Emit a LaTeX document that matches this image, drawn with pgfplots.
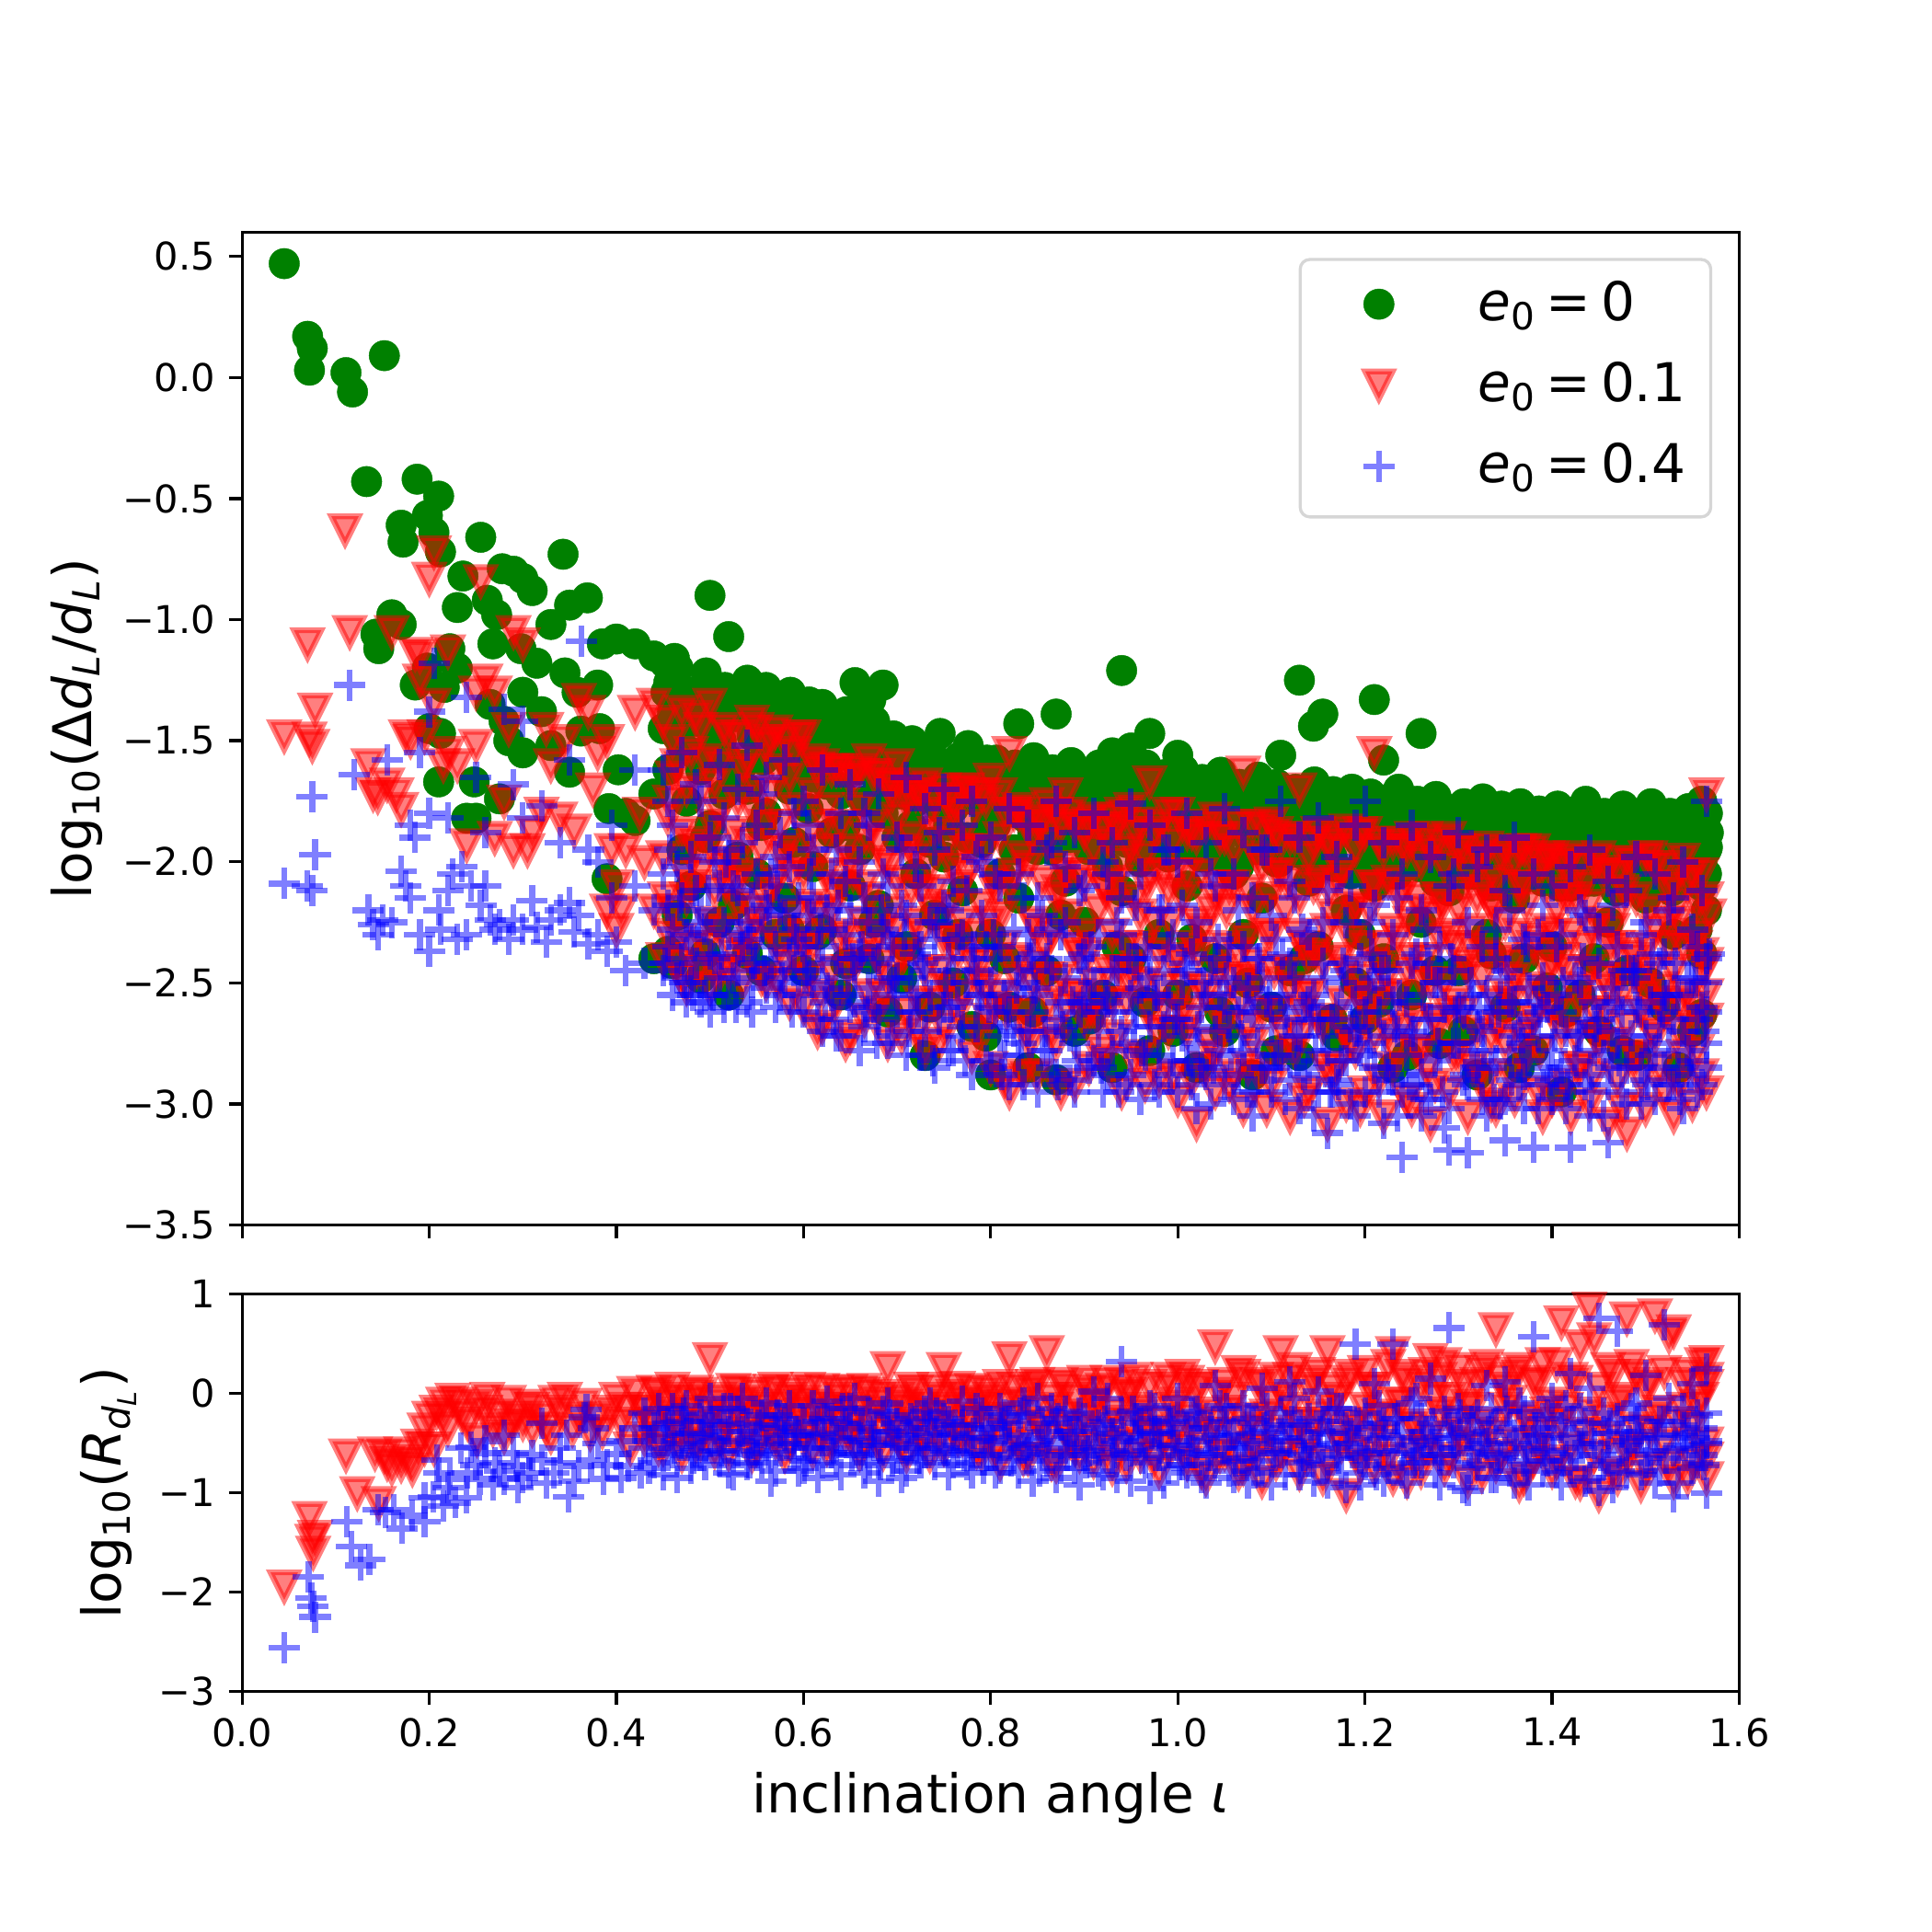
\documentclass[border=0pt]{standalone}
\usepackage{fontspec}
\setmainfont{DejaVu Sans}
\usepackage{pgfplots}
\pgfplotsset{compat=1.18}
\definecolor{mgreen}{RGB}{0,128,0}
\definecolor{legedge}{RGB}{214,214,214}
\newcommand{\eq}{\hspace{0.18em}=\hspace{0.18em}}
\pgfdeclareplotmark{vtri}{%
 \pgfpathmoveto{\pgfqpoint{0pt}{-\pgfplotmarksize}}%
 \pgfpathlineto{\pgfqpoint{-\pgfplotmarksize}{\pgfplotmarksize}}%
 \pgfpathlineto{\pgfqpoint{\pgfplotmarksize}{\pgfplotmarksize}}%
 \pgfpathclose\pgfusepathqfillstroke}
\pgfplotsset{
 gser/.style={only marks, mark=*, mark size=4.0pt, mark options={fill=mgreen, draw=mgreen, line width=0.1pt, fill opacity=1, draw opacity=1}},
 rser/.style={only marks, mark=vtri, mark size=3.6pt, mark options={fill=red, draw=red, line width=1.5pt, fill opacity=0.5, draw opacity=0.5}},
 bser/.style={only marks, mark=+, mark size=4.1pt, mark options={draw=blue, line width=1.5pt, draw opacity=0.5}},
 base/.style={scale only axis, width=392pt, xmin=0, xmax=1.6, anchor=south west,
   axis line style={line width=0.8pt}, tick align=outside, major tick length=3.5pt, tick pos=left,
   every tick/.style={black, line width=0.8pt},
   ticklabel style={font=\fontsize{10}{12}\selectfont},
   xtick={0,0.2,0.4,0.6,0.8,1.0,1.2,1.4,1.6},
   label style={font=\fontsize{14}{16.8}\selectfont},
   legend image code/.code={\path (0pt,0pt) (39.3pt,0pt); \draw[#1, only marks] plot coordinates {(13.7pt,0.8pt)};},
 },
}
\begin{document}
\begin{tikzpicture}
\useasboundingbox (0,0) rectangle (505.89pt,505.89pt);
\begin{axis}[base, at={(63.4pt,185.1pt)}, height=260pt, ymin=-3.5, ymax=0.6,
  xticklabels={},
  ytick={-3.5,-3,-2.5,-2,-1.5,-1,-0.5,0,0.5},
  yticklabels={−3.5,−3.0,−2.5,−2.0,−1.5,−1.0,−0.5,0.0,0.5},
  ylabel={log\textsubscript{10}(Δ\textit{d}\textsubscript{\textit{L}}/\textit{d}\textsubscript{\textit{L}})},
  ylabel style={at={(axis description cs:-0.1107,0.5)}, anchor=center},
  legend cell align=left,
  legend style={at={(axis description cs:0.982,0.974)}, anchor=north east, draw=legedge, line width=0.8pt, rounded corners=2.5pt, fill=white,
    font=\fontsize{14}{16.8}\selectfont, inner xsep=6.5pt, inner ysep=5.5pt, row sep=7.2pt,
    nodes={inner sep=0pt, text height=10.5pt, text depth=3.5pt}},
]
\addplot[gser] coordinates {
(0.045,0.47)(0.070,0.17)(0.075,0.12)(0.072,0.03)(0.111,0.02)(0.118,-0.06)(0.152,0.09)(0.133,-0.43)(0.187,-0.42)(0.210,-0.49)(0.198,-0.57)(0.170,-0.61)(0.172,-0.68)(0.205,-0.64)(0.212,-0.72)(0.255,-0.66)(0.236,-0.82)(0.278,-0.79)(0.290,-0.80)(0.300,-0.83)(0.310,-0.88)(0.343,-0.73)(0.350,-0.94)(0.369,-0.91)(0.262,-0.92)(0.230,-0.95)(0.272,-0.98)(0.160,-0.98)(0.170,-1.02)(0.143,-1.06)(0.146,-1.12)(0.222,-1.12)(0.198,-1.20)(0.185,-1.27)(0.216,-1.28)(0.268,-1.10)(0.298,-1.12)(0.315,-1.18)(0.330,-1.02)(0.345,-1.22)(0.358,-1.30)(0.380,-1.27)(0.385,-1.10)(0.400,-1.08)(0.420,-1.10)(0.440,-1.15)(0.452,-1.18)(0.462,-1.16)(0.500,-0.90)(0.520,-1.07)(0.498,-1.27)(0.540,-1.25)(0.560,-1.28)(0.580,-1.32)(0.600,-1.40)(0.620,-1.35)(0.650,-1.38)(0.655,-1.26)(0.685,-1.27)(0.672,-1.33)(0.940,-1.21)(1.130,-1.25)(1.210,-1.33)(1.155,-1.39)(1.145,-1.44)(1.260,-1.47)(0.830,-1.43)(0.870,-1.39)(0.970,-1.47)(0.930,-1.55)(0.950,-1.53)(1.000,-1.56)(1.110,-1.56)(1.220,-1.58)
(0.200,-1.45)(0.212,-1.47)(0.210,-1.67)(0.248,-1.67)(0.240,-1.82)(0.250,-1.82)(0.275,-1.74)(0.280,-1.42)(0.285,-1.50)(0.300,-1.55)(0.330,-1.52)(0.350,-1.63)(0.362,-1.46)(0.382,-1.45)(0.402,-1.62)(0.392,-1.78)(0.410,-1.80)(0.420,-1.83)(0.390,-2.07)(0.440,-1.72)(0.450,-1.45)(0.300,-1.30)(0.265,-1.35)(0.230,-1.20)(0.320,-1.38)(0.440,-2.40)(0.455,-2.37)
(0.46,-1.38)(0.46,-2.42)(0.47,-1.52)(0.47,-1.95)(0.48,-1.30)(0.48,-2.10)(0.49,-1.62)(0.49,-2.48)(0.50,-1.45)(0.50,-1.85)(0.51,-1.33)(0.51,-2.25)(0.52,-1.58)(0.52,-2.55)(0.53,-1.40)(0.53,-1.98)(0.54,-1.70)(0.54,-2.38)(0.55,-1.48)(0.55,-2.05)(0.56,-1.36)(0.56,-1.80)(0.57,-1.55)(0.57,-2.30)(0.58,-1.44)(0.58,-2.15)(0.59,-1.62)(0.59,-1.92)
(0.60,-1.50)(0.60,-2.45)(0.61,-1.65)(0.61,-2.02)(0.62,-1.42)(0.62,-2.28)(0.63,-1.58)(0.63,-1.88)(0.64,-1.72)(0.64,-2.55)(0.65,-1.48)(0.65,-2.10)(0.66,-1.62)(0.66,-1.95)(0.67,-1.52)(0.67,-2.40)(0.68,-1.70)(0.68,-2.18)(0.69,-1.55)(0.69,-2.62)(0.70,-1.62)(0.70,-1.90)(0.71,-1.58)(0.71,-2.35)(0.72,-1.75)(0.72,-2.05)(0.73,-1.60)(0.73,-2.80)(0.74,-1.68)(0.74,-2.22)(0.75,-1.63)(0.75,-1.98)(0.76,-1.78)(0.76,-2.50)(0.77,-1.66)(0.77,-2.12)(0.78,-1.60)(0.78,-2.68)(0.79,-1.72)(0.79,-1.92)
(0.80,-1.68)(0.80,-2.30)(0.80,-2.88)(0.81,-1.75)(0.81,-2.05)(0.82,-1.65)(0.82,-2.60)(0.83,-1.80)(0.83,-2.15)(0.84,-1.70)(0.84,-2.85)(0.85,-1.66)(0.85,-1.95)(0.86,-1.78)(0.86,-2.45)(0.87,-1.72)(0.87,-2.90)(0.88,-1.68)(0.88,-2.08)(0.89,-1.82)(0.89,-2.70)(0.90,-1.74)(0.90,-2.25)(0.91,-1.69)(0.91,-1.95)(0.92,-1.80)(0.92,-2.55)(0.93,-1.72)(0.93,-2.85)(0.94,-1.76)(0.94,-2.12)(0.95,-1.70)(0.95,-2.40)(0.96,-1.85)(0.96,-2.00)(0.97,-1.74)(0.97,-2.78)(0.98,-1.79)(0.98,-2.30)(0.99,-1.73)(0.99,-1.98)
(1.00,-1.78)(1.00,-2.55)(1.01,-1.74)(1.01,-2.10)(1.02,-1.82)(1.02,-2.85)(1.03,-1.76)(1.03,-1.98)(1.04,-1.85)(1.04,-2.40)(1.05,-1.75)(1.05,-2.70)(1.06,-1.80)(1.06,-2.05)(1.07,-1.72)(1.07,-2.30)(1.08,-1.86)(1.08,-2.88)(1.09,-1.78)(1.09,-2.15)(1.10,-1.82)(1.10,-2.60)(1.11,-1.76)(1.11,-1.96)(1.12,-1.88)(1.12,-2.45)(1.13,-1.78)(1.13,-2.80)(1.14,-1.83)(1.14,-2.08)(1.15,-1.77)(1.15,-2.35)(1.16,-1.85)(1.16,-1.98)(1.17,-1.80)(1.17,-2.72)(1.18,-1.75)(1.18,-2.20)(1.19,-1.84)(1.19,-2.50)
(1.20,-1.80)(1.20,-2.65)(1.21,-1.86)(1.21,-2.10)(1.22,-1.82)(1.22,-2.40)(1.23,-1.90)(1.23,-2.85)(1.24,-1.84)(1.24,-2.02)(1.25,-1.88)(1.25,-2.55)(1.26,-1.85)(1.26,-2.25)(1.27,-1.92)(1.27,-1.98)(1.28,-1.86)(1.28,-2.75)(1.29,-1.82)(1.29,-2.12)(1.30,-1.90)(1.30,-2.45)(1.31,-1.86)(1.31,-2.05)(1.32,-1.80)(1.32,-2.88)(1.33,-1.88)(1.33,-2.30)(1.34,-1.84)(1.34,-1.98)(1.35,-1.92)(1.35,-2.60)(1.36,-1.86)(1.36,-2.15)(1.37,-1.90)(1.37,-2.40)(1.38,-1.88)(1.38,-2.78)(1.39,-1.93)(1.39,-2.08)
(1.40,-1.88)(1.40,-2.35)(1.41,-1.82)(1.41,-2.95)(1.42,-1.92)(1.42,-2.10)(1.43,-1.88)(1.43,-2.55)(1.44,-1.95)(1.44,-2.00)(1.45,-1.90)(1.45,-2.70)(1.46,-1.87)(1.46,-2.25)(1.47,-1.93)(1.47,-2.05)(1.48,-1.88)(1.48,-2.45)(1.49,-1.92)(1.49,-2.80)(1.50,-1.89)(1.50,-2.15)(1.51,-1.95)(1.51,-1.98)(1.52,-1.90)(1.52,-2.60)(1.53,-1.86)(1.53,-2.30)(1.54,-1.93)(1.54,-2.05)(1.55,-1.88)(1.55,-2.70)(1.56,-1.75)(1.56,-1.87)(1.56,-2.00)(1.56,-2.10)(1.56,-2.38)(1.56,-2.63)(1.565,-1.95)(1.565,-2.20)
(0.455,-1.62)(0.465,-1.48)(0.465,-2.22)(0.475,-1.75)(0.485,-1.42)(0.495,-1.90)(0.495,-2.38)(0.505,-1.55)(0.515,-1.72)(0.525,-1.35)(0.525,-2.18)(0.535,-1.60)(0.545,-1.48)(0.555,-1.85)(0.555,-2.45)(0.565,-1.52)(0.575,-1.38)(0.585,-1.70)(0.585,-2.28)(0.595,-1.45)
(0.605,-1.78)(0.615,-1.55)(0.615,-2.30)(0.625,-1.68)(0.635,-1.50)(0.645,-1.85)(0.645,-2.42)(0.655,-1.58)(0.665,-1.75)(0.675,-1.62)(0.675,-2.25)(0.685,-1.80)(0.695,-1.65)(0.705,-1.72)(0.705,-2.48)(0.715,-1.85)(0.725,-1.66)(0.735,-1.92)(0.735,-2.60)(0.745,-1.72)(0.755,-1.85)(0.765,-1.68)(0.765,-2.30)(0.775,-1.90)(0.785,-1.75)(0.795,-1.82)(0.795,-2.72)
(0.805,-1.85)(0.815,-1.72)(0.815,-2.40)(0.825,-1.95)(0.835,-1.78)(0.845,-1.88)(0.845,-2.62)(0.855,-1.80)(0.865,-1.95)(0.875,-1.76)(0.875,-2.22)(0.885,-1.90)(0.895,-1.80)(0.905,-1.95)(0.905,-2.65)(0.915,-1.82)(0.925,-2.02)(0.935,-1.85)(0.935,-2.35)(0.945,-1.92)(0.955,-1.80)(0.965,-1.98)(0.965,-2.58)(0.975,-1.86)(0.985,-1.95)(0.995,-1.84)(0.995,-2.70)
(1.005,-1.92)(1.015,-1.85)(1.015,-2.32)(1.025,-1.98)(1.035,-1.88)(1.045,-1.95)(1.045,-2.62)(1.055,-1.86)(1.065,-2.02)(1.075,-1.90)(1.075,-2.50)(1.085,-1.95)(1.095,-1.86)(1.105,-2.00)(1.105,-2.78)(1.115,-1.90)(1.125,-1.96)(1.135,-1.88)(1.135,-2.40)(1.145,-2.02)(1.155,-1.92)(1.165,-1.98)(1.165,-2.65)(1.175,-1.88)(1.185,-2.05)(1.195,-1.92)(1.195,-2.30)
(1.205,-1.95)(1.215,-2.02)(1.215,-2.58)(1.225,-1.92)(1.235,-2.05)(1.245,-1.96)(1.245,-2.80)(1.255,-2.00)(1.265,-1.94)(1.275,-2.08)(1.275,-2.45)(1.285,-1.98)(1.295,-2.02)(1.305,-1.95)(1.305,-2.70)(1.315,-2.05)(1.325,-1.98)(1.335,-2.10)(1.335,-2.38)(1.345,-2.00)(1.355,-1.96)(1.365,-2.08)(1.365,-2.85)(1.375,-2.00)(1.385,-2.05)(1.395,-1.98)(1.395,-2.52)
(1.405,-2.02)(1.415,-1.95)(1.415,-2.62)(1.425,-2.05)(1.435,-2.00)(1.445,-2.08)(1.445,-2.40)(1.455,-1.98)(1.465,-2.05)(1.475,-2.00)(1.475,-2.78)(1.485,-2.10)(1.495,-1.98)(1.505,-2.05)(1.505,-2.50)(1.515,-2.02)(1.525,-2.08)(1.535,-1.98)(1.535,-2.85)(1.545,-2.05)(1.555,-1.95)(1.555,-2.28)(1.565,-2.05)
(0.453,-1.30)(0.468,-1.42)(0.482,-1.55)(0.497,-1.36)(0.512,-1.50)(0.527,-1.62)(0.542,-1.40)(0.557,-1.58)(0.572,-1.46)(0.587,-1.60)(0.602,-1.55)(0.617,-1.45)(0.632,-1.68)(0.647,-1.56)(0.662,-1.48)(0.677,-1.72)(0.692,-1.60)
(0.703,-1.60)(0.717,-1.70)(0.733,-1.62)(0.747,-1.78)(0.762,-1.65)(0.778,-1.74)(0.792,-1.66)(0.807,-1.78)(0.822,-1.68)(0.838,-1.82)(0.852,-1.70)(0.868,-1.85)(0.883,-1.72)(0.897,-1.88)(0.912,-1.75)(0.928,-1.90)(0.943,-1.72)(0.958,-1.92)(0.973,-1.78)(0.988,-1.90)(1.003,-1.72)(1.018,-1.95)(1.033,-1.80)(1.048,-1.98)(1.063,-1.76)(1.078,-1.95)(1.093,-1.82)(1.108,-2.00)(1.123,-1.78)(1.138,-1.98)(1.153,-1.84)(1.168,-2.02)(1.183,-1.80)(1.198,-2.00)(1.213,-1.85)(1.228,-2.05)(1.243,-1.82)(1.258,-2.02)(1.273,-1.88)(1.288,-2.08)(1.303,-1.85)(1.318,-2.05)(1.333,-1.90)(1.348,-2.10)(1.363,-1.86)(1.378,-2.05)(1.393,-1.92)(1.408,-2.10)(1.423,-1.88)(1.438,-2.08)(1.453,-1.93)(1.468,-2.12)(1.483,-1.90)(1.498,-2.10)(1.513,-1.92)(1.528,-2.12)(1.543,-1.90)(1.558,-2.08)(1.567,-1.88)
(0.456,-1.26)(0.466,-1.20)(0.476,-1.31)(0.486,-1.36)(0.496,-1.22)(0.506,-1.34)(0.516,-1.28)(0.526,-1.40)(0.536,-1.30)(0.546,-1.42)(0.556,-1.33)(0.566,-1.45)(0.576,-1.37)(0.586,-1.30)(0.596,-1.48)(0.606,-1.34)(0.616,-1.40)(0.626,-1.50)(0.636,-1.44)(0.646,-1.38)(0.656,-1.52)(0.666,-1.46)(0.676,-1.42)(0.686,-1.56)(0.696,-1.48)(0.706,-1.55)(0.716,-1.50)(0.726,-1.60)(0.736,-1.53)(0.746,-1.47)(0.756,-1.62)(0.766,-1.57)(0.776,-1.52)(0.786,-1.64)(0.796,-1.58)
(0.806,-1.58)(0.806,-1.75)(0.816,-1.64)(0.816,-1.72)(0.826,-1.60)(0.826,-1.78)(0.836,-1.68)(0.836,-1.70)(0.846,-1.57)(0.846,-1.76)(0.856,-1.66)(0.856,-1.73)(0.866,-1.62)(0.866,-1.79)(0.876,-1.70)(0.876,-1.74)(0.886,-1.59)(0.886,-1.77)(0.896,-1.67)(0.896,-1.72)
(0.906,-1.64)(0.906,-1.78)(0.916,-1.60)(0.916,-1.75)(0.926,-1.70)(0.926,-1.80)(0.936,-1.62)(0.936,-1.73)(0.946,-1.66)(0.946,-1.77)(0.956,-1.72)(0.956,-1.79)(0.966,-1.60)(0.966,-1.74)(0.976,-1.69)(0.976,-1.81)(0.986,-1.64)(0.986,-1.76)(0.996,-1.73)(0.996,-1.78)
(1.006,-1.62)(1.006,-1.80)(1.016,-1.70)(1.016,-1.77)(1.026,-1.66)(1.026,-1.82)(1.036,-1.74)(1.036,-1.78)(1.046,-1.63)(1.046,-1.81)(1.056,-1.71)(1.056,-1.76)(1.066,-1.68)(1.066,-1.83)(1.076,-1.76)(1.076,-1.79)(1.086,-1.65)(1.086,-1.82)(1.096,-1.73)(1.096,-1.77)
(1.106,-1.68)(1.106,-1.84)(1.116,-1.75)(1.116,-1.80)(1.126,-1.70)(1.126,-1.83)(1.136,-1.78)(1.136,-1.79)(1.146,-1.67)(1.146,-1.86)(1.156,-1.74)(1.156,-1.81)(1.166,-1.71)(1.166,-1.84)(1.176,-1.79)(1.176,-1.80)(1.186,-1.70)(1.186,-1.87)(1.196,-1.77)(1.196,-1.82)
(1.206,-1.72)(1.206,-1.86)(1.216,-1.80)(1.216,-1.83)(1.226,-1.74)(1.226,-1.88)(1.236,-1.70)(1.236,-1.85)(1.246,-1.81)(1.246,-1.89)(1.256,-1.75)(1.256,-1.84)(1.266,-1.83)(1.266,-1.90)(1.276,-1.73)(1.276,-1.86)(1.286,-1.78)(1.286,-1.91)(1.296,-1.84)(1.296,-1.87)
(1.306,-1.76)(1.306,-1.90)(1.316,-1.82)(1.316,-1.88)(1.326,-1.74)(1.326,-1.92)(1.336,-1.85)(1.336,-1.89)(1.346,-1.77)(1.346,-1.93)(1.356,-1.83)(1.356,-1.90)(1.366,-1.76)(1.366,-1.94)(1.376,-1.86)(1.376,-1.91)(1.386,-1.79)(1.386,-1.93)(1.396,-1.84)(1.396,-1.90)
(1.406,-1.77)(1.406,-1.94)(1.416,-1.85)(1.416,-1.91)(1.426,-1.79)(1.426,-1.95)(1.436,-1.75)(1.436,-1.92)(1.446,-1.86)(1.446,-1.96)(1.456,-1.80)(1.456,-1.93)(1.466,-1.84)(1.466,-1.95)(1.476,-1.77)(1.476,-1.92)(1.486,-1.87)(1.486,-1.96)(1.496,-1.81)(1.496,-1.93)
(1.506,-1.76)(1.506,-1.95)(1.516,-1.85)(1.516,-1.92)(1.526,-1.80)(1.526,-1.96)(1.536,-1.87)(1.536,-1.93)(1.546,-1.78)(1.546,-1.95)(1.556,-1.84)(1.556,-1.92)(1.566,-1.80)(1.566,-1.94)
};
\addlegendentry{\textit{e}\textsubscript{0}\eq 0}
\addplot[rser] coordinates {
(0.045,-1.48)(0.070,-1.10)(0.072,-1.49)(0.075,-1.52)(0.078,-1.37)(0.110,-0.63)(0.115,-1.05)(0.135,-1.60)(0.140,-1.72)(0.145,-1.73)(0.155,-1.68)(0.160,-1.05)(0.165,-1.72)(0.170,-1.78)(0.180,-1.50)(0.185,-1.14)(0.190,-1.25)(0.200,-0.83)(0.205,-0.72)(0.220,-1.13)(0.205,-1.35)(0.220,-1.55)(0.230,-1.60)(0.240,-1.93)(0.250,-1.52)(0.255,-0.84)(0.260,-1.25)(0.270,-1.30)(0.270,-1.90)(0.280,-1.75)(0.290,-1.05)(0.290,-1.95)(0.300,-1.10)(0.305,-1.95)(0.310,-1.88)(0.320,-1.80)(0.330,-1.60)(0.340,-1.82)(0.355,-1.87)(0.360,-1.33)(0.370,-1.38)(0.375,-1.70)(0.380,-1.55)(0.390,-1.50)(0.395,-1.95)(0.400,-2.10)(0.405,-2.20)(0.410,-1.95)(0.420,-1.38)(0.425,-1.80)(0.430,-2.00)(0.440,-2.20)(0.440,-1.35)(0.390,-2.20)(0.400,-2.28)(0.195,-1.48)(0.215,-1.60)(0.250,-1.30)(0.285,-1.45)(0.325,-1.45)(0.345,-1.50)(0.190,-1.15)(0.175,-1.48)
(0.45,-1.42)(0.45,-1.98)(0.45,-2.40)(0.46,-1.65)(0.46,-2.20)(0.46,-1.50)(0.47,-1.88)(0.47,-2.48)(0.47,-1.38)(0.48,-1.55)(0.48,-2.10)(0.48,-2.35)(0.49,-1.72)(0.49,-1.45)(0.49,-2.05)(0.50,-1.35)(0.50,-1.95)(0.50,-2.52)(0.51,-1.60)(0.51,-2.28)(0.51,-1.80)(0.52,-1.48)(0.52,-2.00)(0.52,-2.45)(0.53,-1.75)(0.53,-1.48)(0.53,-2.18)(0.54,-1.58)(0.54,-2.38)(0.54,-1.92)(0.55,-1.45)(0.55,-1.70)(0.55,-2.25)(0.56,-1.85)(0.56,-2.50)(0.56,-1.52)(0.57,-1.62)(0.57,-2.08)(0.57,-1.46)(0.58,-1.50)(0.58,-1.95)(0.58,-2.42)(0.59,-1.78)(0.59,-2.22)(0.59,-1.55)
(0.60,-1.48)(0.60,-2.05)(0.60,-2.60)(0.61,-1.72)(0.61,-2.35)(0.61,-1.58)(0.62,-1.95)(0.62,-2.68)(0.62,-1.60)(0.63,-1.62)(0.63,-2.20)(0.63,-2.45)(0.64,-1.85)(0.64,-1.62)(0.64,-2.10)(0.65,-1.66)(0.65,-2.00)(0.65,-2.72)(0.66,-1.78)(0.66,-2.38)(0.66,-1.62)(0.67,-1.58)(0.67,-2.15)(0.67,-2.55)(0.68,-1.92)(0.68,-1.64)(0.68,-2.30)(0.69,-1.68)(0.69,-2.48)(0.69,-2.75)(0.70,-1.60)(0.70,-2.08)(0.70,-1.82)(0.71,-1.75)(0.71,-2.62)(0.71,-1.70)(0.72,-1.98)(0.72,-2.25)(0.72,-1.72)(0.73,-1.68)(0.73,-2.45)(0.73,-2.78)(0.74,-1.88)(0.74,-1.74)(0.74,-2.12)(0.75,-1.70)(0.75,-2.32)(0.75,-2.68)(0.76,-1.80)(0.76,-2.02)(0.76,-1.76)(0.77,-1.70)(0.77,-2.55)(0.77,-2.25)(0.78,-1.95)(0.78,-1.72)(0.78,-2.80)(0.79,-1.72)(0.79,-2.18)(0.79,-2.42)
(0.80,-1.66)(0.80,-2.25)(0.80,-2.85)(0.81,-1.90)(0.81,-2.55)(0.81,-1.72)(0.82,-1.55)(0.82,-2.10)(0.82,-2.95)(0.83,-1.78)(0.83,-2.40)(0.83,-1.80)(0.84,-2.02)(0.84,-2.70)(0.84,-1.85)(0.85,-1.82)(0.85,-2.28)(0.85,-2.88)(0.86,-1.92)(0.86,-1.76)(0.86,-2.48)(0.87,-1.80)(0.87,-2.15)(0.87,-2.75)(0.88,-2.05)(0.88,-2.60)(0.88,-1.72)(0.89,-1.85)(0.89,-2.35)(0.89,-2.92)(0.90,-1.88)(0.90,-2.08)(0.90,-2.65)(0.91,-1.82)(0.91,-2.50)(0.91,-1.95)(0.92,-2.10)(0.92,-2.82)(0.92,-1.86)(0.93,-1.82)(0.93,-2.30)(0.93,-2.58)(0.94,-1.80)(0.94,-2.00)(0.94,-2.95)(0.95,-1.95)(0.95,-2.45)(0.95,-1.78)(0.96,-1.84)(0.96,-2.22)(0.96,-2.80)(0.97,-1.67)(0.97,-2.62)(0.97,-2.05)(0.98,-1.85)(0.98,-2.38)(0.98,-2.90)(0.99,-1.80)(0.99,-2.12)(0.99,-2.70)
(1.00,-1.80)(1.00,-2.40)(1.00,-2.98)(1.01,-2.05)(1.01,-2.70)(1.01,-1.88)(1.02,-1.90)(1.02,-2.25)(1.02,-3.08)(1.03,-1.85)(1.03,-2.55)(1.03,-2.85)(1.04,-2.15)(1.04,-1.82)(1.04,-2.95)(1.05,-1.90)(1.05,-2.35)(1.05,-2.68)(1.06,-1.95)(1.06,-2.88)(1.06,-2.10)(1.07,-1.63)(1.07,-2.48)(1.07,-3.02)(1.08,-1.85)(1.08,-2.20)(1.08,-2.75)(1.09,-2.02)(1.09,-2.62)(1.09,-1.86)(1.10,-1.84)(1.10,-2.30)(1.10,-2.92)(1.11,-1.92)(1.11,-2.80)(1.11,-2.05)(1.12,-1.90)(1.12,-2.52)(1.12,-3.05)(1.13,-1.70)(1.13,-2.15)(1.13,-2.72)(1.14,-1.98)(1.14,-2.40)(1.14,-2.95)(1.15,-1.88)(1.15,-2.65)(1.15,-2.08)(1.16,-1.92)(1.16,-2.28)(1.16,-3.08)(1.17,-2.08)(1.17,-2.85)(1.17,-1.90)(1.18,-1.87)(1.18,-2.45)(1.18,-3.00)(1.19,-1.95)(1.19,-2.18)(1.19,-2.78)
(1.20,-1.88)(1.20,-2.35)(1.20,-2.95)(1.21,-1.55)(1.21,-2.10)(1.21,-2.72)(1.22,-1.95)(1.22,-2.55)(1.22,-3.05)(1.23,-1.92)(1.23,-2.28)(1.23,-2.85)(1.24,-2.12)(1.24,-2.68)(1.24,-1.94)(1.25,-1.90)(1.25,-2.40)(1.25,-3.02)(1.26,-2.00)(1.26,-2.78)(1.26,-2.20)(1.27,-1.96)(1.27,-2.50)(1.27,-3.08)(1.28,-2.15)(1.28,-2.32)(1.28,-1.92)(1.29,-1.90)(1.29,-2.62)(1.29,-2.95)(1.30,-1.95)(1.30,-2.20)(1.30,-2.80)(1.31,-2.05)(1.31,-2.45)(1.31,-3.05)(1.32,-1.98)(1.32,-2.70)(1.32,-2.15)(1.33,-1.94)(1.33,-2.38)(1.33,-2.92)(1.34,-2.08)(1.34,-2.58)(1.34,-3.02)(1.35,-1.96)(1.35,-2.25)(1.35,-2.75)(1.36,-2.00)(1.36,-2.48)(1.36,-2.98)(1.37,-2.10)(1.37,-2.82)(1.37,-1.95)(1.38,-1.95)(1.38,-2.35)(1.38,-2.65)(1.39,-2.00)(1.39,-2.55)(1.39,-3.05)
(1.40,-1.98)(1.40,-2.42)(1.40,-2.98)(1.41,-2.12)(1.41,-2.70)(1.41,-2.00)(1.42,-1.98)(1.42,-2.30)(1.42,-3.05)(1.43,-2.02)(1.43,-2.58)(1.43,-2.85)(1.44,-2.18)(1.44,-2.45)(1.44,-3.00)(1.45,-1.98)(1.45,-2.75)(1.45,-2.25)(1.46,-2.04)(1.46,-2.52)(1.46,-3.08)(1.47,-2.05)(1.47,-2.35)(1.47,-2.90)(1.48,-2.00)(1.48,-2.68)(1.48,-3.12)(1.49,-2.15)(1.49,-2.40)(1.49,-2.80)(1.50,-1.98)(1.50,-2.55)(1.50,-3.02)(1.51,-2.02)(1.51,-2.28)(1.51,-2.72)(1.52,-2.02)(1.52,-2.62)(1.52,-2.95)(1.53,-2.10)(1.53,-2.45)(1.53,-3.05)(1.54,-1.99)(1.54,-2.35)(1.54,-2.80)(1.55,-2.05)(1.55,-2.60)(1.55,-3.00)(1.56,-2.05)(1.56,-2.38)(1.56,-2.88)(1.565,-1.72)(1.565,-2.15)(1.565,-2.55)(1.565,-2.95)
(0.455,-1.82)(0.455,-2.30)(0.465,-2.42)(0.465,-1.60)(0.475,-1.70)(0.475,-2.15)(0.475,-2.52)(0.485,-1.95)(0.485,-1.40)(0.495,-2.35)(0.495,-1.58)(0.505,-1.68)(0.505,-2.12)(0.505,-2.45)(0.515,-2.02)(0.515,-1.45)(0.525,-1.88)(0.525,-2.38)(0.535,-2.50)(0.535,-1.62)(0.535,-2.05)(0.545,-1.42)(0.545,-2.20)(0.555,-1.95)(0.555,-2.48)(0.565,-2.12)(0.565,-1.72)(0.565,-1.50)(0.575,-2.35)(0.575,-1.85)(0.585,-1.65)(0.585,-2.58)(0.595,-2.00)(0.595,-1.48)(0.595,-2.30)
(0.605,-1.90)(0.605,-2.48)(0.615,-2.22)(0.615,-1.62)(0.615,-2.70)(0.625,-1.78)(0.625,-2.05)(0.635,-2.58)(0.635,-1.62)(0.645,-2.30)(0.645,-1.95)(0.645,-2.75)(0.655,-1.65)(0.655,-2.42)(0.665,-2.10)(0.665,-2.65)(0.675,-1.85)(0.675,-1.64)(0.675,-2.35)(0.685,-2.55)(0.685,-2.00)(0.695,-1.72)(0.695,-2.20)(0.695,-1.68)(0.705,-2.40)(0.705,-2.72)(0.715,-1.90)(0.715,-2.12)(0.725,-1.72)(0.725,-2.58)(0.725,-2.30)(0.735,-2.02)(0.735,-1.80)(0.745,-2.45)(0.745,-2.75)(0.755,-1.74)(0.755,-2.18)(0.755,-1.92)(0.765,-2.62)(0.765,-2.38)(0.775,-1.85)(0.775,-2.05)(0.775,-1.70)(0.785,-2.30)(0.785,-2.70)(0.795,-1.95)(0.795,-1.75)(0.795,-2.52)
(0.805,-2.12)(0.805,-2.60)(0.815,-1.80)(0.815,-2.35)(0.815,-2.90)(0.825,-2.05)(0.825,-1.80)(0.835,-2.62)(0.835,-2.88)(0.845,-1.90)(0.845,-2.25)(0.845,-2.50)(0.855,-2.08)(0.855,-1.84)(0.865,-2.70)(0.865,-2.30)(0.875,-1.85)(0.875,-2.48)(0.875,-2.95)(0.885,-2.22)(0.885,-1.80)(0.895,-2.55)(0.895,-2.05)(0.905,-1.84)(0.905,-2.38)(0.905,-2.85)(0.915,-2.20)(0.915,-2.65)(0.925,-1.92)(0.925,-2.45)(0.935,-2.08)(0.935,-2.72)(0.935,-1.86)(0.945,-2.35)(0.945,-2.58)(0.955,-1.88)(0.955,-2.15)(0.965,-2.50)(0.965,-2.92)(0.965,-1.98)(0.975,-2.25)(0.975,-1.88)(0.985,-2.60)(0.985,-2.05)(0.995,-1.92)(0.995,-2.42)(0.995,-2.88)
(1.005,-2.15)(1.005,-2.62)(1.015,-1.88)(1.015,-2.35)(1.015,-2.90)(1.025,-2.52)(1.025,-2.05)(1.035,-2.20)(1.035,-2.75)(1.045,-1.90)(1.045,-2.45)(1.045,-2.60)(1.055,-2.10)(1.055,-2.92)(1.065,-2.38)(1.065,-1.85)(1.075,-2.68)(1.075,-2.12)(1.075,-2.85)(1.085,-1.98)(1.085,-2.50)(1.095,-2.30)(1.095,-3.02)(1.105,-2.05)(1.105,-2.62)(1.105,-1.88)(1.115,-2.45)(1.115,-2.20)(1.125,-1.90)(1.125,-2.78)(1.135,-2.55)(1.135,-2.35)(1.135,-2.98)(1.145,-2.10)(1.145,-1.92)(1.155,-2.68)(1.155,-2.42)(1.165,-1.95)(1.165,-2.22)(1.165,-2.88)(1.175,-2.58)(1.175,-2.05)(1.185,-2.32)(1.185,-2.75)(1.195,-1.88)(1.195,-2.48)(1.195,-3.02)
(1.205,-2.20)(1.205,-2.58)(1.215,-2.42)(1.215,-2.90)(1.215,-1.92)(1.225,-2.08)(1.225,-2.70)(1.235,-2.55)(1.235,-2.32)(1.245,-1.95)(1.245,-2.45)(1.245,-2.98)(1.255,-2.15)(1.255,-2.78)(1.265,-2.40)(1.265,-1.90)(1.275,-2.65)(1.275,-2.22)(1.275,-2.92)(1.285,-2.02)(1.285,-2.50)(1.295,-2.35)(1.295,-2.80)(1.305,-1.95)(1.305,-2.62)(1.305,-2.12)(1.315,-2.28)(1.315,-2.85)(1.325,-2.48)(1.325,-2.00)(1.335,-2.72)(1.335,-2.18)(1.335,-3.00)(1.345,-1.98)(1.345,-2.40)(1.355,-2.58)(1.355,-2.88)(1.365,-2.10)(1.365,-2.30)(1.365,-1.95)(1.375,-2.52)(1.375,-2.68)(1.385,-2.05)(1.385,-2.95)(1.395,-2.28)(1.395,-2.45)(1.395,-1.98)
(1.405,-2.20)(1.405,-2.62)(1.415,-2.45)(1.415,-2.92)(1.415,-2.02)(1.425,-2.15)(1.425,-2.72)(1.435,-2.35)(1.435,-2.10)(1.445,-2.62)(1.445,-2.88)(1.445,-2.00)(1.455,-2.05)(1.455,-2.48)(1.465,-2.28)(1.465,-2.75)(1.475,-2.55)(1.475,-2.18)(1.475,-3.02)(1.485,-2.00)(1.485,-2.38)(1.495,-2.62)(1.495,-2.90)(1.505,-2.20)(1.505,-2.45)(1.505,-1.98)(1.515,-2.58)(1.515,-2.85)(1.525,-2.12)(1.525,-2.35)(1.535,-2.70)(1.535,-2.25)(1.535,-2.92)(1.545,-2.08)(1.545,-2.55)(1.555,-2.30)(1.555,-2.78)(1.555,-2.18)(1.565,-2.42)(1.565,-2.65)
(0.452,-2.15)(0.468,-2.32)(0.482,-1.92)(0.498,-2.25)(0.512,-2.45)(0.528,-2.08)(0.542,-2.30)(0.558,-2.15)(0.572,-2.50)(0.588,-2.05)(0.602,-2.35)(0.618,-2.55)(0.632,-2.12)(0.648,-2.45)(0.662,-2.25)(0.678,-2.62)(0.692,-2.02)(0.708,-2.38)(0.722,-2.70)(0.738,-2.20)(0.752,-2.52)(0.768,-2.10)(0.782,-2.42)(0.798,-2.65)(0.812,-2.22)(0.828,-2.48)(0.842,-2.75)(0.858,-2.35)(0.872,-2.12)(0.888,-2.55)(0.902,-2.30)(0.918,-2.78)(0.932,-2.18)(0.948,-2.50)(0.962,-2.35)(0.978,-2.70)(0.992,-2.25)(1.008,-2.52)(1.022,-2.38)(1.038,-2.80)(1.052,-2.20)(1.068,-2.58)(1.082,-2.42)(1.098,-2.15)(1.112,-2.70)(1.128,-2.30)(1.142,-2.55)(1.158,-2.85)(1.172,-2.40)(1.188,-2.20)(1.202,-2.62)(1.218,-2.35)(1.232,-2.78)(1.248,-2.25)(1.262,-2.50)(1.278,-2.68)(1.292,-2.30)(1.308,-2.42)(1.322,-2.88)(1.338,-2.20)(1.352,-2.55)(1.368,-2.72)(1.382,-2.32)(1.398,-2.60)(1.412,-2.40)(1.428,-2.85)(1.442,-2.28)(1.458,-2.62)(1.472,-2.48)(1.488,-2.80)(1.502,-2.35)(1.518,-2.52)(1.532,-2.20)(1.548,-2.68)(1.562,-2.45)
(0.457,-1.75)(0.473,-2.05)(0.487,-2.45)(0.503,-1.85)(0.517,-2.10)(0.533,-2.35)(0.547,-1.80)(0.563,-2.28)(0.577,-1.98)(0.593,-2.40)(0.607,-2.18)(0.623,-1.85)(0.637,-2.32)(0.653,-2.05)(0.667,-1.90)(0.683,-2.42)(0.697,-2.28)(0.713,-1.95)(0.727,-2.12)(0.743,-2.58)(0.757,-2.32)(0.773,-1.95)(0.787,-2.50)(0.803,-2.08)(0.817,-2.62)(0.833,-1.98)(0.847,-2.42)(0.863,-2.58)(0.877,-2.02)(0.893,-2.38)(0.907,-2.62)(0.923,-2.12)(0.937,-2.45)(0.953,-2.82)(0.967,-2.10)(0.983,-2.52)(0.997,-2.05)(1.013,-2.65)(1.027,-2.28)(1.043,-2.10)(1.057,-2.48)(1.073,-2.32)(1.087,-2.88)(1.103,-2.45)(1.117,-2.08)(1.133,-2.62)(1.147,-2.38)(1.163,-2.12)(1.177,-2.70)(1.193,-2.55)(1.207,-2.10)(1.223,-2.48)(1.237,-2.15)(1.253,-2.65)(1.267,-2.85)(1.283,-2.18)(1.297,-2.58)(1.313,-2.35)(1.327,-2.12)(1.343,-2.68)(1.357,-2.42)(1.373,-2.18)(1.387,-2.78)(1.403,-2.30)(1.417,-2.15)(1.433,-2.52)(1.447,-2.72)(1.463,-2.35)(1.477,-2.12)(1.493,-2.48)(1.507,-2.70)(1.523,-2.25)(1.537,-2.58)(1.553,-2.35)(1.568,-2.22)
};
\addlegendentry{\textit{e}\textsubscript{0}\eq 0.1}
\addplot[bser] coordinates {
(0.045,-2.09)(0.070,-2.10)(0.075,-2.12)(0.078,-1.97)(0.075,-1.73)(0.115,-1.27)(0.120,-1.64)(0.135,-2.20)(0.140,-2.26)(0.145,-2.30)(0.150,-2.24)(0.160,-2.25)(0.155,-1.58)(0.170,-2.04)(0.175,-2.10)(0.180,-2.15)(0.190,-2.30)(0.200,-2.37)(0.210,-2.20)(0.212,-2.28)(0.220,-2.12)(0.225,-2.05)(0.230,-2.32)(0.240,-2.30)(0.245,-2.10)(0.260,-2.10)(0.265,-2.24)(0.270,-2.28)(0.275,-2.26)(0.290,-2.24)(0.300,-2.28)(0.310,-2.16)(0.315,-2.27)(0.330,-2.24)(0.340,-2.20)(0.350,-2.17)(0.355,-2.29)(0.370,-2.34)(0.380,-2.30)(0.390,-2.37)(0.400,-2.33)(0.410,-2.45)(0.200,-1.38)(0.190,-1.55)(0.200,-1.80)(0.220,-1.82)(0.250,-1.65)(0.290,-1.68)(0.300,-1.82)(0.320,-1.77)(0.340,-1.92)(0.180,-1.85)(0.240,-1.32)(0.280,-1.37)(0.300,-1.42)(0.370,-1.95)(0.380,-2.00)(0.420,-2.10)(0.440,-2.20)(0.205,-1.18)(0.185,-1.90)(0.235,-2.02)(0.255,-2.18)(0.285,-2.32)(0.325,-2.33)(0.360,-2.22)(0.395,-2.15)(0.430,-2.42)(0.260,-1.88)(0.350,-1.58)(0.395,-1.85)(0.420,-1.62)(0.363,-1.09)
(0.45,-2.05)(0.45,-2.45)(0.45,-1.62)(0.46,-2.28)(0.46,-2.55)(0.46,-1.85)(0.47,-2.15)(0.47,-2.40)(0.47,-1.55)(0.48,-2.50)(0.48,-1.98)(0.48,-2.32)(0.49,-2.20)(0.49,-2.58)(0.49,-1.75)(0.50,-2.38)(0.50,-2.62)(0.50,-1.90)(0.51,-2.10)(0.51,-2.48)(0.51,-1.60)(0.52,-2.30)(0.52,-2.55)(0.52,-1.95)(0.53,-2.45)(0.53,-2.12)(0.53,-1.70)(0.54,-2.25)(0.54,-2.58)(0.54,-1.52)(0.55,-2.40)(0.55,-2.05)(0.55,-1.85)(0.56,-2.18)(0.56,-2.52)(0.56,-1.65)(0.57,-2.35)(0.57,-2.60)(0.57,-1.98)(0.58,-2.50)(0.58,-2.22)(0.58,-1.58)(0.59,-2.28)(0.59,-2.45)(0.59,-1.80)
(0.60,-2.35)(0.60,-2.62)(0.60,-1.75)(0.61,-2.15)(0.61,-2.50)(0.61,-1.95)(0.62,-2.42)(0.62,-2.70)(0.62,-1.62)(0.63,-2.28)(0.63,-2.55)(0.63,-2.05)(0.64,-2.48)(0.64,-2.72)(0.64,-1.80)(0.65,-2.20)(0.65,-2.60)(0.65,-1.68)(0.66,-2.38)(0.66,-2.78)(0.66,-2.00)(0.67,-2.52)(0.67,-2.25)(0.67,-1.85)(0.68,-2.65)(0.68,-2.40)(0.68,-1.72)(0.69,-2.30)(0.69,-2.75)(0.69,-2.10)(0.70,-2.48)(0.70,-2.62)(0.70,-1.90)(0.71,-2.22)(0.71,-2.80)(0.71,-1.65)(0.72,-2.55)(0.72,-2.38)(0.72,-2.02)(0.73,-2.70)(0.73,-2.45)(0.73,-1.78)(0.74,-2.32)(0.74,-2.85)(0.74,-1.95)(0.75,-2.60)(0.75,-2.18)(0.75,-1.70)(0.76,-2.45)(0.76,-2.78)(0.76,-2.08)(0.77,-2.68)(0.77,-2.30)(0.77,-1.85)(0.78,-2.40)(0.78,-2.88)(0.78,-1.75)(0.79,-2.55)(0.79,-2.22)(0.79,-2.00)
(0.80,-2.50)(0.80,-2.85)(0.80,-1.90)(0.81,-2.35)(0.81,-2.72)(0.81,-2.10)(0.82,-2.62)(0.82,-2.92)(0.82,-1.78)(0.83,-2.45)(0.83,-2.80)(0.83,-2.05)(0.84,-2.70)(0.84,-2.30)(0.84,-1.85)(0.85,-2.55)(0.85,-2.95)(0.85,-2.15)(0.86,-2.40)(0.86,-2.78)(0.86,-1.95)(0.87,-2.65)(0.87,-2.88)(0.87,-1.75)(0.88,-2.48)(0.88,-2.25)(0.88,-2.02)(0.89,-2.75)(0.89,-2.95)(0.89,-1.88)(0.90,-2.58)(0.90,-2.38)(0.90,-2.10)(0.91,-2.82)(0.91,-2.50)(0.91,-1.80)(0.92,-2.62)(0.92,-2.95)(0.92,-2.00)(0.93,-2.45)(0.93,-2.78)(0.93,-1.92)(0.94,-2.70)(0.94,-2.30)(0.94,-2.15)(0.95,-2.88)(0.95,-2.55)(0.95,-1.76)(0.96,-2.52)(0.96,-2.98)(0.96,-2.05)(0.97,-2.68)(0.97,-2.40)(0.97,-1.85)(0.98,-2.80)(0.98,-2.95)(0.98,-2.20)(0.99,-2.58)(0.99,-2.35)(0.99,-1.95)
(1.00,-2.65)(1.00,-2.95)(1.00,-2.00)(1.01,-2.45)(1.01,-2.82)(1.01,-1.80)(1.02,-2.75)(1.02,-3.02)(1.02,-2.25)(1.03,-2.55)(1.03,-2.88)(1.03,-1.92)(1.04,-2.70)(1.04,-2.40)(1.04,-2.10)(1.05,-2.92)(1.05,-2.60)(1.05,-1.78)(1.06,-2.50)(1.06,-2.98)(1.06,-2.05)(1.07,-2.78)(1.07,-2.35)(1.07,-1.88)(1.08,-2.62)(1.08,-3.05)(1.08,-2.15)(1.09,-2.85)(1.09,-2.48)(1.09,-1.95)(1.10,-2.68)(1.10,-2.95)(1.10,-2.22)(1.11,-2.55)(1.11,-2.80)(1.11,-1.75)(1.12,-2.90)(1.12,-2.42)(1.12,-2.08)(1.13,-2.72)(1.13,-3.02)(1.13,-1.90)(1.14,-2.58)(1.14,-2.85)(1.14,-2.30)(1.15,-2.95)(1.15,-2.65)(1.15,-1.82)(1.16,-2.78)(1.16,-3.12)(1.16,-2.12)(1.17,-2.60)(1.17,-2.90)(1.17,-1.98)(1.18,-2.82)(1.18,-2.45)(1.18,-2.25)(1.19,-2.70)(1.19,-3.05)(1.19,-1.85)
(1.20,-2.62)(1.20,-2.95)(1.20,-1.75)(1.21,-2.85)(1.21,-2.48)(1.21,-2.18)(1.22,-2.72)(1.22,-3.08)(1.22,-1.92)(1.23,-2.58)(1.23,-2.90)(1.23,-2.30)(1.24,-2.95)(1.24,-3.22)(1.24,-2.05)(1.25,-2.70)(1.25,-2.42)(1.25,-1.85)(1.26,-2.88)(1.26,-3.05)(1.26,-2.20)(1.27,-2.65)(1.27,-2.98)(1.27,-1.98)(1.28,-2.80)(1.28,-2.50)(1.28,-2.35)(1.29,-3.02)(1.29,-3.19)(1.29,-2.10)(1.30,-2.75)(1.30,-2.60)(1.30,-1.88)(1.31,-2.92)(1.31,-3.20)(1.31,-2.25)(1.32,-2.68)(1.32,-2.85)(1.32,-2.02)(1.33,-2.55)(1.33,-3.05)(1.33,-1.95)(1.34,-2.82)(1.34,-2.40)(1.34,-2.28)(1.35,-2.98)(1.35,-3.15)(1.35,-2.12)(1.36,-2.72)(1.36,-2.58)(1.36,-1.90)(1.37,-2.88)(1.37,-3.02)(1.37,-2.32)(1.38,-2.65)(1.38,-3.18)(1.38,-2.05)(1.39,-2.92)(1.39,-2.48)(1.39,-2.18)
(1.40,-2.78)(1.40,-2.98)(1.40,-2.10)(1.41,-2.62)(1.41,-2.85)(1.41,-2.30)(1.42,-2.95)(1.42,-3.18)(1.42,-2.02)(1.43,-2.72)(1.43,-2.50)(1.43,-2.20)(1.44,-2.88)(1.44,-3.05)(1.44,-1.95)(1.45,-2.65)(1.45,-2.42)(1.45,-2.28)(1.46,-2.92)(1.46,-3.16)(1.46,-2.08)(1.47,-2.75)(1.47,-2.58)(1.47,-2.35)(1.48,-2.85)(1.48,-3.00)(1.48,-2.12)(1.49,-2.60)(1.49,-2.45)(1.49,-1.98)(1.50,-2.90)(1.50,-2.72)(1.50,-2.25)(1.51,-2.78)(1.51,-2.98)(1.51,-2.05)(1.52,-2.55)(1.52,-2.85)(1.52,-2.38)(1.53,-2.92)(1.53,-2.65)(1.53,-2.15)(1.54,-2.70)(1.54,-3.02)(1.54,-2.00)(1.55,-2.82)(1.55,-2.48)(1.55,-2.28)(1.56,-2.60)(1.56,-2.92)(1.56,-2.12)(1.565,-2.75)(1.565,-2.40)(1.565,-2.50)(1.565,-1.75)
(0.455,-2.35)(0.455,-2.18)(0.455,-1.75)(0.465,-2.48)(0.465,-2.02)(0.475,-2.30)(0.475,-2.58)(0.485,-2.12)(0.485,-2.42)(0.485,-1.68)(0.495,-2.55)(0.495,-2.28)(0.505,-2.00)(0.505,-2.40)(0.515,-2.25)(0.515,-2.60)(0.515,-1.82)(0.525,-2.48)(0.525,-2.10)(0.535,-2.35)(0.535,-1.92)(0.545,-2.15)(0.545,-2.50)(0.545,-2.62)(0.555,-2.28)(0.555,-1.72)(0.565,-2.42)(0.565,-2.05)(0.575,-2.20)(0.575,-2.55)(0.575,-1.88)(0.585,-2.38)(0.585,-2.02)(0.595,-2.55)(0.595,-2.15)
(0.605,-2.45)(0.605,-2.22)(0.605,-1.85)(0.615,-2.65)(0.615,-2.35)(0.625,-2.20)(0.625,-2.52)(0.635,-2.40)(0.635,-2.72)(0.635,-1.95)(0.645,-2.30)(0.645,-2.08)(0.655,-2.58)(0.655,-2.45)(0.665,-2.15)(0.665,-2.68)(0.665,-1.80)(0.675,-2.42)(0.675,-2.60)(0.685,-2.28)(0.685,-2.05)(0.695,-2.55)(0.695,-2.72)(0.695,-2.35)(0.705,-2.18)(0.705,-1.95)(0.715,-2.48)(0.715,-2.62)(0.725,-2.35)(0.725,-2.80)(0.725,-2.10)(0.735,-2.55)(0.735,-2.25)(0.745,-2.65)(0.745,-1.88)(0.755,-2.40)(0.755,-2.78)(0.755,-2.20)(0.765,-2.58)(0.765,-2.32)(0.775,-2.12)(0.775,-2.50)(0.785,-2.68)(0.785,-2.45)(0.785,-1.98)(0.795,-2.35)(0.795,-2.82)
(0.805,-2.62)(0.805,-2.40)(0.805,-2.05)(0.815,-2.80)(0.815,-2.55)(0.825,-2.28)(0.825,-2.70)(0.835,-2.50)(0.835,-2.92)(0.835,-2.15)(0.845,-2.62)(0.845,-2.38)(0.855,-2.78)(0.855,-2.22)(0.865,-2.45)(0.865,-2.85)(0.865,-1.92)(0.875,-2.58)(0.875,-2.30)(0.885,-2.72)(0.885,-2.90)(0.895,-2.40)(0.895,-2.62)(0.895,-2.12)(0.905,-2.85)(0.905,-2.55)(0.915,-2.30)(0.915,-2.70)(0.925,-2.58)(0.925,-2.88)(0.925,-2.05)(0.935,-2.45)(0.935,-2.25)(0.945,-2.75)(0.945,-2.92)(0.955,-2.40)(0.955,-2.62)(0.955,-2.18)(0.965,-2.80)(0.965,-2.35)(0.975,-2.55)(0.975,-2.92)(0.985,-2.45)(0.985,-2.68)(0.985,-1.95)(0.995,-2.82)(0.995,-2.30)
(1.005,-2.72)(1.005,-2.50)(1.005,-2.18)(1.015,-2.92)(1.015,-2.38)(1.025,-2.60)(1.025,-2.85)(1.035,-2.45)(1.035,-3.00)(1.035,-2.05)(1.045,-2.78)(1.045,-2.55)(1.055,-2.35)(1.055,-2.68)(1.065,-2.88)(1.065,-2.62)(1.065,-2.20)(1.075,-2.52)(1.075,-2.95)(1.085,-2.75)(1.085,-2.40)(1.095,-2.58)(1.095,-2.85)(1.095,-1.95)(1.105,-2.80)(1.105,-2.32)(1.115,-2.65)(1.115,-2.98)(1.125,-2.48)(1.125,-2.72)(1.125,-2.15)(1.135,-2.88)(1.135,-2.60)(1.145,-2.55)(1.145,-3.05)(1.155,-2.72)(1.155,-2.42)(1.155,-2.25)(1.165,-2.95)(1.165,-2.65)(1.175,-2.50)(1.175,-2.82)(1.185,-2.68)(1.185,-3.00)(1.185,-2.10)(1.195,-2.40)(1.195,-2.78)
(1.205,-2.75)(1.205,-2.52)(1.205,-2.25)(1.215,-2.95)(1.215,-2.62)(1.225,-2.45)(1.225,-2.88)(1.235,-2.70)(1.235,-3.05)(1.235,-2.15)(1.245,-2.58)(1.245,-2.80)(1.255,-2.92)(1.255,-2.38)(1.265,-2.65)(1.265,-2.98)(1.265,-2.28)(1.275,-2.82)(1.275,-2.50)(1.285,-2.60)(1.285,-3.10)(1.295,-2.75)(1.295,-2.45)(1.295,-2.05)(1.305,-2.90)(1.305,-2.62)(1.315,-2.55)(1.315,-2.78)(1.325,-2.98)(1.325,-2.70)(1.325,-2.35)(1.335,-2.62)(1.335,-2.85)(1.345,-2.48)(1.345,-3.00)(1.355,-2.78)(1.355,-2.58)(1.355,-2.20)(1.365,-2.92)(1.365,-2.68)(1.375,-2.52)(1.375,-2.82)(1.385,-2.72)(1.385,-3.02)(1.385,-2.30)(1.395,-2.60)(1.395,-2.85)
(1.405,-2.88)(1.405,-2.55)(1.405,-2.35)(1.415,-2.70)(1.415,-3.02)(1.425,-2.48)(1.425,-2.82)(1.435,-2.92)(1.435,-2.65)(1.435,-2.22)(1.445,-2.58)(1.445,-2.78)(1.455,-2.80)(1.455,-3.05)(1.465,-2.52)(1.465,-2.70)(1.465,-2.18)(1.475,-2.95)(1.475,-2.62)(1.485,-2.72)(1.485,-2.45)(1.495,-2.85)(1.495,-3.00)(1.495,-2.30)(1.505,-2.58)(1.505,-2.80)(1.515,-2.68)(1.515,-2.42)(1.525,-2.92)(1.525,-2.75)(1.525,-2.20)(1.535,-2.55)(1.535,-2.85)(1.545,-2.78)(1.545,-2.48)(1.555,-2.65)(1.555,-2.95)(1.555,-2.35)(1.565,-2.85)(1.565,-2.62)
(0.452,-2.42)(0.468,-2.18)(0.482,-2.55)(0.498,-2.12)(0.512,-2.38)(0.528,-2.60)(0.542,-2.32)(0.558,-2.45)(0.572,-2.10)(0.588,-2.62)(0.602,-2.48)(0.618,-2.28)(0.632,-2.65)(0.648,-2.55)(0.662,-2.35)(0.678,-2.75)(0.692,-2.48)(0.708,-2.30)(0.722,-2.62)(0.738,-2.82)(0.752,-2.50)(0.768,-2.72)(0.782,-2.35)(0.798,-2.60)(0.812,-2.88)(0.828,-2.52)(0.842,-2.40)(0.858,-2.70)(0.872,-2.92)(0.888,-2.58)(0.902,-2.45)(0.918,-2.85)(0.932,-2.62)(0.948,-2.40)(0.962,-2.78)(0.978,-2.55)(0.992,-2.88)(1.008,-2.42)(1.022,-2.68)(1.038,-2.85)(1.052,-2.48)(1.068,-2.72)(1.082,-2.95)(1.098,-2.55)(1.112,-2.38)(1.128,-2.82)(1.142,-2.65)(1.158,-2.48)(1.172,-2.92)(1.188,-2.58)(1.202,-2.80)(1.218,-2.45)(1.232,-2.68)(1.248,-2.92)(1.262,-2.55)(1.278,-2.75)(1.292,-2.40)(1.308,-2.88)(1.322,-2.60)(1.338,-2.98)(1.352,-2.45)(1.368,-2.75)(1.382,-2.58)(1.398,-2.90)(1.412,-2.50)(1.428,-2.72)(1.442,-2.95)(1.458,-2.60)(1.472,-2.82)(1.488,-2.48)(1.502,-2.92)(1.518,-2.62)(1.532,-2.42)(1.548,-2.88)(1.562,-2.70)
(0.457,-1.95)(0.473,-2.50)(0.487,-2.25)(0.503,-2.55)(0.517,-2.00)(0.533,-2.28)(0.547,-2.42)(0.563,-2.20)(0.577,-2.48)(0.593,-2.32)(0.607,-2.05)(0.623,-2.58)(0.637,-2.18)(0.653,-2.40)(0.667,-2.62)(0.683,-2.20)(0.697,-2.50)(0.713,-2.70)(0.727,-2.42)(0.743,-2.25)(0.757,-2.60)(0.773,-2.82)(0.787,-2.55)(0.803,-2.30)(0.817,-2.68)(0.833,-2.75)(0.847,-2.52)(0.863,-2.28)(0.877,-2.68)(0.893,-2.82)(0.907,-2.35)(0.923,-2.55)(0.937,-2.95)(0.953,-2.68)(0.967,-2.48)(0.983,-2.20)(0.997,-2.65)(1.013,-2.82)(1.027,-2.50)(1.043,-2.32)(1.057,-2.80)(1.073,-2.60)(1.087,-2.40)(1.103,-2.85)(1.117,-2.62)(1.133,-2.28)(1.147,-2.78)(1.163,-2.95)(1.177,-2.42)(1.193,-2.68)(1.207,-2.38)(1.223,-2.85)(1.237,-2.55)(1.253,-2.72)(1.267,-2.42)(1.283,-2.95)(1.297,-2.62)(1.313,-2.50)(1.327,-2.78)(1.343,-2.62)(1.357,-2.90)(1.373,-2.35)(1.387,-2.62)(1.403,-2.72)(1.417,-2.92)(1.433,-2.40)(1.447,-2.68)(1.463,-2.85)(1.477,-2.45)(1.493,-2.62)(1.507,-2.38)(1.523,-2.55)(1.537,-2.98)(1.553,-2.50)(1.568,-2.38)
};
\addlegendentry{\textit{e}\textsubscript{0}\eq 0.4}
\end{axis}
\begin{axis}[base, at={(63.4pt,63.0pt)}, height=104pt, ymin=-3, ymax=1,
  xticklabels={0.0,0.2,0.4,0.6,0.8,1.0,1.2,1.4,1.6},
  ytick={-3,-2,-1,0,1},
  yticklabels={−3,−2,−1,0,1},
  ylabel={log\textsubscript{10}(\textit{R}\textsubscript{\textit{d}\textsubscript{\textit{L}}})},
  ylabel style={at={(axis description cs:-0.0893,0.5)}, anchor=center},
  xlabel={inclination angle \textit{ι}},
  xlabel style={at={(axis description cs:0.5,-0.3048)}, anchor=base},
]
\addplot[rser] coordinates {
(0.045,-1.94)(0.072,-1.25)(0.075,-1.48)(0.076,-1.60)(0.078,-1.44)(0.111,-0.62)(0.123,-1.00)(0.142,-0.60)(0.146,-1.10)(0.152,-0.62)(0.160,-0.75)(0.170,-0.60)(0.182,-0.76)(0.188,-0.52)(0.195,-0.36)(0.200,-0.24)(0.208,-0.18)(0.215,-0.24)(0.225,-0.06)(0.232,-0.10)(0.241,-0.30)(0.251,-0.46)(0.260,-0.18)(0.268,-0.36)(0.274,-0.22)(0.280,-0.43)(0.291,-0.24)(0.300,-0.30)(0.310,-0.36)(0.320,-0.24)(0.330,-0.43)(0.340,-0.18)(0.353,-0.36)(0.366,-0.11)(0.380,-0.24)(0.393,-0.18)(0.406,-0.30)(0.419,0.01)(0.428,-0.18)(0.180,-0.68)(0.205,-0.55)(0.220,-0.35)(0.250,-0.12)(0.285,-0.08)(0.310,-0.15)(0.345,-0.05)(0.372,-0.40)(0.400,-0.05)(0.415,-0.55)
(0.215,-0.10)(0.235,-0.22)(0.262,-0.05)(0.288,-0.32)(0.305,-0.12)(0.325,-0.35)(0.335,-0.08)(0.360,-0.25)(0.385,-0.38)(0.410,-0.15)(0.195,-0.55)(0.170,-0.72)(0.155,-0.70)
(0.43,-0.15)(0.43,-0.45)(0.44,0.02)(0.44,-0.30)(0.45,-0.55)(0.45,-0.10)(0.46,-0.25)(0.46,0.05)(0.47,-0.40)(0.47,-0.62)(0.48,-0.08)(0.48,-0.35)(0.49,0.00)(0.49,-0.50)(0.50,-0.20)(0.50,0.35)(0.51,-0.45)(0.51,-0.05)(0.52,-0.30)(0.52,-0.60)(0.53,0.03)(0.53,-0.18)(0.54,-0.40)(0.54,-0.10)(0.55,-0.55)(0.55,0.00)(0.56,-0.22)(0.56,-0.35)(0.57,0.05)(0.57,-0.48)(0.58,-0.12)(0.58,-0.62)(0.59,-0.30)(0.59,0.02)
(0.60,-0.45)(0.60,-0.08)(0.61,-0.20)(0.61,-0.58)(0.62,0.04)(0.62,-0.35)(0.63,-0.50)(0.63,-0.15)(0.64,-0.05)(0.64,-0.28)(0.65,-0.42)(0.65,0.03)(0.66,-0.18)(0.66,-0.60)(0.67,-0.32)(0.67,0.00)(0.68,-0.10)(0.68,-0.50)(0.69,0.26)(0.69,-0.25)(0.70,-0.40)(0.70,-0.05)(0.71,-0.15)(0.71,-0.62)(0.72,0.02)(0.72,-0.30)(0.73,-0.48)(0.73,-0.12)(0.74,-0.22)(0.74,0.05)(0.75,0.25)(0.75,-0.55)(0.76,-0.35)(0.76,-0.02)(0.77,-0.08)(0.77,-0.45)(0.78,-0.28)(0.78,0.04)(0.79,-0.60)(0.79,-0.15)
(0.80,-0.05)(0.80,-0.38)(0.81,-0.70)(0.81,0.08)(0.82,0.36)(0.82,-0.25)(0.83,-0.50)(0.83,-0.10)(0.84,0.02)(0.84,-0.65)(0.85,-0.30)(0.85,0.10)(0.86,0.42)(0.86,-0.45)(0.87,-0.15)(0.87,-0.72)(0.88,0.06)(0.88,-0.35)(0.89,-0.55)(0.89,-0.05)(0.90,-0.25)(0.90,0.12)(0.91,-0.68)(0.91,-0.12)(0.92,0.04)(0.92,-0.40)(0.93,-0.20)(0.93,-0.75)(0.94,0.10)(0.94,-0.50)(0.95,-0.32)(0.95,0.00)(0.96,-0.62)(0.96,-0.15)(0.97,0.08)(0.97,-0.42)(0.98,-0.28)(0.98,-0.78)(0.99,0.15)(0.99,-0.55)
(1.00,-0.10)(1.00,-0.35)(1.01,-0.70)(1.01,0.12)(1.02,-0.45)(1.02,0.05)(1.03,-0.20)(1.03,-0.85)(1.04,0.48)(1.04,-0.30)(1.05,-0.60)(1.05,0.10)(1.06,-0.05)(1.06,-0.40)(1.07,0.18)(1.07,-0.75)(1.08,-0.25)(1.08,-0.55)(1.09,0.08)(1.09,-0.88)(1.10,-0.38)(1.10,-0.10)(1.11,0.42)(1.11,-0.62)(1.12,-0.15)(1.12,0.15)(1.13,-0.80)(1.13,-0.30)(1.14,0.05)(1.14,-0.50)(1.15,-0.22)(1.15,0.20)(1.16,0.42)(1.16,-0.70)(1.17,-0.42)(1.17,-0.05)(1.18,-1.02)(1.18,0.12)(1.19,-0.30)(1.19,-0.60)
(1.20,0.22)(1.20,-0.15)(1.21,-0.75)(1.21,0.05)(1.22,-0.45)(1.22,-0.25)(1.23,0.41)(1.23,-0.85)(1.24,-0.10)(1.24,0.18)(1.25,-0.58)(1.25,-0.32)(1.26,0.08)(1.26,-0.78)(1.27,0.34)(1.27,-0.45)(1.28,-0.20)(1.28,0.15)(1.29,-0.65)(1.29,-0.05)(1.30,0.25)(1.30,-0.40)(1.31,-0.88)(1.31,-0.12)(1.32,0.10)(1.32,-0.55)(1.33,-0.30)(1.33,0.28)(1.34,0.65)(1.34,-0.72)(1.35,-0.15)(1.35,0.05)(1.36,-0.50)(1.36,0.20)(1.37,-0.85)(1.37,-0.25)(1.38,-0.67)(1.38,0.12)(1.39,0.30)(1.39,-0.40)
(1.40,-0.10)(1.40,-0.78)(1.41,0.72)(1.41,-0.30)(1.42,-0.55)(1.42,0.15)(1.43,0.48)(1.43,-0.90)(1.44,0.86)(1.44,-0.20)(1.45,-1.02)(1.45,0.05)(1.46,-0.45)(1.46,0.25)(1.47,-0.85)(1.47,-0.10)(1.48,0.76)(1.48,-0.60)(1.49,0.18)(1.49,-0.35)(1.50,-0.75)(1.50,0.05)(1.51,0.79)(1.51,-0.25)(1.52,-0.50)(1.52,0.22)(1.53,0.63)(1.53,-0.88)(1.54,-0.15)(1.54,0.10)(1.55,-0.70)(1.55,-0.35)(1.56,0.30)(1.56,-0.05)(1.565,-0.85)(1.565,0.15)(1.565,-0.50)(1.565,0.32)
(0.435,-0.32)(0.445,-0.55)(0.445,0.00)(0.455,-0.20)(0.465,-0.42)(0.465,-0.05)(0.475,-0.18)(0.485,-0.52)(0.485,0.02)(0.495,-0.30)(0.505,-0.10)(0.505,-0.58)(0.515,-0.25)(0.525,-0.45)(0.525,0.04)(0.535,-0.08)(0.545,-0.62)(0.545,-0.25)(0.555,-0.15)(0.565,-0.40)(0.565,0.03)(0.575,-0.28)(0.585,-0.05)(0.585,-0.50)(0.595,-0.18)
(0.605,-0.35)(0.605,0.05)(0.615,-0.12)(0.625,-0.55)(0.625,-0.22)(0.635,0.02)(0.645,-0.42)(0.645,-0.15)(0.655,-0.28)(0.665,0.04)(0.665,-0.48)(0.675,-0.20)(0.685,-0.60)(0.685,-0.02)(0.695,-0.35)(0.705,-0.10)(0.705,-0.52)(0.715,0.05)(0.725,-0.38)(0.725,-0.18)(0.735,-0.62)(0.745,-0.05)(0.745,-0.30)(0.755,-0.15)(0.765,-0.45)(0.765,0.06)(0.775,-0.25)(0.785,-0.58)(0.785,-0.10)(0.795,0.02)
(0.805,-0.25)(0.805,-0.55)(0.815,-0.12)(0.825,0.05)(0.825,-0.42)(0.835,-0.65)(0.845,-0.18)(0.845,0.08)(0.855,-0.35)(0.865,-0.70)(0.865,-0.05)(0.875,0.10)(0.885,-0.48)(0.885,-0.22)(0.895,-0.62)(0.905,0.02)(0.905,-0.35)(0.915,-0.10)(0.925,-0.55)(0.925,0.12)(0.935,-0.28)(0.945,-0.72)(0.945,-0.02)(0.955,0.15)(0.965,-0.38)(0.965,-0.20)(0.975,-0.65)(0.985,0.05)(0.985,-0.45)(0.995,-0.15)
(1.005,-0.55)(1.005,0.18)(1.015,-0.25)(1.025,-0.78)(1.025,0.08)(1.035,-0.40)(1.045,0.00)(1.045,-0.62)(1.055,-0.18)(1.065,0.22)(1.065,-0.80)(1.075,-0.35)(1.085,0.10)(1.085,-0.58)(1.095,-0.22)(1.105,-0.70)(1.105,0.15)(1.115,-0.05)(1.125,-0.45)(1.125,0.25)(1.135,-0.62)(1.145,0.12)(1.145,-0.30)(1.155,-0.85)(1.165,-0.15)(1.165,0.05)(1.175,-0.52)(1.185,0.18)(1.185,-0.35)(1.195,-0.72)
(1.205,0.05)(1.205,-0.48)(1.215,-0.22)(1.225,0.28)(1.225,-0.65)(1.235,-0.10)(1.245,-0.88)(1.245,0.12)(1.255,-0.35)(1.265,0.20)(1.265,-0.58)(1.275,-0.05)(1.285,-0.75)(1.285,0.30)(1.295,-0.28)(1.305,0.08)(1.305,-0.50)(1.315,-0.15)(1.325,-0.82)(1.325,0.22)(1.335,-0.40)(1.345,0.15)(1.345,-0.62)(1.355,-0.08)(1.365,-0.92)(1.365,0.25)(1.375,-0.30)(1.385,0.10)(1.385,-0.55)(1.395,-0.20)
(1.405,0.30)(1.405,-0.68)(1.415,-0.15)(1.425,-0.88)(1.425,0.12)(1.435,-0.40)(1.445,0.55)(1.445,-0.62)(1.455,-0.25)(1.465,0.18)(1.465,-0.80)(1.475,-0.05)(1.485,-0.55)(1.485,0.28)(1.495,-0.92)(1.505,0.10)(1.505,-0.38)(1.515,-0.18)(1.525,0.58)(1.525,-0.72)(1.535,-0.30)(1.545,0.20)(1.545,-0.85)(1.555,-0.12)(1.565,-0.65)(1.565,0.08)
};
\addplot[bser] coordinates {
(0.045,-2.56)(0.071,-1.85)(0.074,-2.06)(0.076,-2.14)(0.078,-2.25)(0.112,-1.29)(0.117,-1.54)(0.127,-1.73)(0.136,-1.67)(0.145,-1.17)(0.153,-1.20)(0.162,-1.17)(0.171,-1.36)(0.182,-1.23)(0.195,-1.29)(0.204,-1.04)(0.215,-1.13)(0.228,-1.10)(0.210,-0.80)(0.222,-0.86)(0.241,-0.80)(0.254,-0.86)(0.268,-0.92)(0.280,-0.86)(0.294,-0.73)(0.307,-0.80)(0.320,-0.67)(0.333,-0.80)(0.349,-1.04)(0.360,-0.73)(0.373,-0.67)(0.386,-0.86)(0.400,-0.61)(0.413,-0.73)(0.426,-0.80)(0.260,-0.48)(0.280,-0.42)(0.320,-0.30)(0.347,-0.42)(0.234,-0.55)(0.366,-0.24)(0.406,-0.48)(0.290,-0.60)(0.300,-0.85)(0.340,-0.55)(0.380,-0.50)(0.420,-0.35)(0.270,-0.70)(0.195,-1.05)(0.240,-1.05)(0.208,-0.67)(0.245,-0.54)(0.368,-0.16)
(0.250,-0.72)(0.275,-0.78)(0.310,-0.62)(0.325,-0.90)(0.355,-0.88)(0.390,-0.72)(0.405,-0.85)(0.295,-0.95)(0.220,-0.95)(0.260,-0.60)(0.340,-0.70)(0.375,-0.35)
(0.43,-0.55)(0.43,-0.20)(0.44,-0.70)(0.44,-0.35)(0.45,-0.42)(0.45,-0.82)(0.46,-0.15)(0.46,-0.60)(0.47,-0.50)(0.47,-0.28)(0.48,-0.75)(0.48,-0.40)(0.49,-0.22)(0.49,-0.62)(0.50,-0.48)(0.50,-0.05)(0.51,-0.68)(0.51,-0.32)(0.52,-0.38)(0.52,-0.80)(0.53,-0.58)(0.53,-0.18)(0.54,-0.30)(0.54,-0.72)(0.55,-0.62)(0.55,-0.45)(0.56,-0.10)(0.56,-0.52)(0.57,-0.78)(0.57,-0.35)(0.58,-0.42)(0.58,-0.25)(0.59,-0.65)(0.59,-0.50)
(0.60,-0.30)(0.60,-0.75)(0.61,-0.55)(0.61,-0.12)(0.62,-0.70)(0.62,-0.40)(0.63,-0.25)(0.63,-0.60)(0.64,-0.48)(0.64,-0.82)(0.65,-0.35)(0.65,-0.15)(0.66,-0.62)(0.66,-0.45)(0.67,-0.20)(0.67,-0.70)(0.68,-0.52)(0.68,-0.88)(0.69,-0.38)(0.69,-0.10)(0.70,-0.65)(0.70,-0.30)(0.71,-0.45)(0.71,-0.78)(0.72,-0.28)(0.72,-0.55)(0.73,-0.60)(0.73,-0.18)(0.74,-0.40)(0.74,-0.72)(0.75,-0.55)(0.75,-0.25)(0.76,-0.70)(0.76,-0.42)(0.77,-0.32)(0.77,-0.08)(0.78,-0.58)(0.78,-0.80)(0.79,-0.45)(0.79,-0.20)
(0.80,-0.62)(0.80,-0.35)(0.81,-0.15)(0.81,-0.75)(0.82,-0.50)(0.82,-0.28)(0.83,-0.80)(0.83,-0.42)(0.84,-0.22)(0.84,-0.60)(0.85,-0.48)(0.85,-0.05)(0.86,-0.68)(0.86,-0.38)(0.87,-0.30)(0.87,-0.85)(0.88,-0.55)(0.88,-0.18)(0.89,-0.75)(0.89,-0.45)(0.90,-0.25)(0.90,-0.62)(0.91,-0.50)(0.91,0.02)(0.92,-0.82)(0.92,-0.35)(0.93,-0.40)(0.93,-0.65)(0.94,0.32)(0.94,-0.20)(0.95,-0.58)(0.95,-0.88)(0.96,-0.30)(0.96,-0.48)(0.97,-0.96)(0.97,-0.12)(0.98,-0.62)(0.98,-0.40)(0.99,-0.25)(0.99,-0.75)
(1.00,-0.52)(1.00,-0.05)(1.01,-0.80)(1.01,-0.35)(1.02,-0.18)(1.02,-0.60)(1.03,-0.45)(1.03,-0.90)(1.04,-0.70)(1.04,0.08)(1.05,-0.28)(1.05,-0.55)(1.06,-0.85)(1.06,-0.40)(1.07,-0.12)(1.07,-0.65)(1.08,-0.50)(1.08,-0.30)(1.09,-0.75)(1.09,0.05)(1.10,-0.38)(1.10,-0.92)(1.11,-0.60)(1.11,-0.20)(1.12,0.12)(1.12,-0.48)(1.13,-0.82)(1.13,-0.32)(1.14,-0.25)(1.14,-0.68)(1.15,-0.55)(1.15,0.02)(1.16,-0.90)(1.16,-0.40)(1.17,-0.15)(1.17,-0.62)(1.18,-0.95)(1.18,-0.35)(1.19,0.50)(1.19,-0.55)
(1.20,-0.72)(1.20,-0.20)(1.21,-0.45)(1.21,0.10)(1.22,-0.88)(1.22,-0.30)(1.23,0.50)(1.23,-0.60)(1.24,-0.38)(1.24,-0.80)(1.25,-0.10)(1.25,-0.52)(1.26,-0.70)(1.26,-0.25)(1.27,0.15)(1.27,-0.45)(1.28,-0.92)(1.28,-0.62)(1.29,0.66)(1.29,-0.35)(1.30,-0.55)(1.30,-0.15)(1.31,-0.98)(1.31,-0.40)(1.32,-0.22)(1.32,-0.72)(1.33,0.08)(1.33,-0.50)(1.34,-0.85)(1.34,-0.30)(1.35,-0.60)(1.35,0.12)(1.36,-0.42)(1.36,-0.90)(1.37,-0.18)(1.37,-0.68)(1.38,0.57)(1.38,-0.48)(1.39,-0.78)(1.39,-0.25)
(1.40,-0.05)(1.40,-0.60)(1.41,-0.92)(1.41,-0.35)(1.42,0.20)(1.42,-0.75)(1.43,-0.50)(1.43,-0.15)(1.44,-0.85)(1.44,0.05)(1.45,0.76)(1.45,-0.98)(1.46,-0.40)(1.46,-0.68)(1.47,0.63)(1.47,-0.25)(1.48,-0.80)(1.48,-0.52)(1.49,-0.10)(1.49,-0.38)(1.50,-0.70)(1.50,0.18)(1.51,-0.45)(1.51,-0.90)(1.52,0.69)(1.52,-0.28)(1.53,-1.04)(1.53,-0.58)(1.54,-0.15)(1.54,-0.42)(1.55,-0.75)(1.55,0.10)(1.56,-0.35)(1.56,-0.62)(1.565,-1.00)(1.565,-0.20)(1.565,0.25)(1.565,-0.50)
(0.435,-0.48)(0.435,-0.75)(0.445,-0.15)(0.455,-0.62)(0.455,-0.30)(0.465,-0.85)(0.475,-0.40)(0.475,-0.12)(0.485,-0.58)(0.495,-0.72)(0.495,-0.28)(0.505,-0.45)(0.515,-0.15)(0.515,-0.60)(0.525,-0.82)(0.535,-0.38)(0.535,-0.05)(0.545,-0.50)(0.555,-0.70)(0.555,-0.22)(0.565,-0.88)(0.575,-0.32)(0.575,-0.58)(0.585,-0.12)(0.595,-0.78)(0.595,-0.42)
(0.605,-0.55)(0.615,-0.28)(0.615,-0.85)(0.625,-0.08)(0.635,-0.45)(0.635,-0.72)(0.645,-0.30)(0.655,-0.60)(0.655,-0.05)(0.665,-0.80)(0.675,-0.38)(0.675,-0.52)(0.685,-0.18)(0.695,-0.68)(0.695,-0.42)(0.705,-0.85)(0.715,-0.25)(0.715,-0.55)(0.725,-0.70)(0.735,-0.35)(0.735,-0.10)(0.745,-0.52)(0.755,-0.82)(0.755,-0.28)(0.765,-0.60)(0.775,-0.45)(0.775,-0.72)(0.785,-0.15)(0.795,-0.62)(0.795,-0.35)
(0.805,-0.80)(0.815,-0.45)(0.815,-0.22)(0.825,-0.65)(0.835,-0.10)(0.835,-0.55)(0.845,-0.88)(0.855,-0.30)(0.855,-0.62)(0.865,-0.15)(0.875,-0.50)(0.875,-0.75)(0.885,-0.38)(0.895,-0.92)(0.895,-0.20)(0.905,-0.58)(0.915,-0.32)(0.915,-0.78)(0.925,-0.05)(0.935,-0.48)(0.935,-0.85)(0.945,-0.62)(0.955,-0.25)(0.955,-0.42)(0.965,-0.70)(0.975,-0.38)(0.975,-0.15)(0.985,-0.90)(0.995,-0.52)(0.995,-0.28)
(1.005,-0.72)(1.015,-0.20)(1.015,-0.48)(1.025,-0.85)(1.035,-0.35)(1.035,-0.62)(1.045,-0.12)(1.055,-0.78)(1.055,-0.42)(1.065,-0.55)(1.075,-0.25)(1.075,-0.90)(1.085,-0.68)(1.095,-0.40)(1.095,-0.15)(1.105,-0.58)(1.115,-0.82)(1.115,-0.32)(1.125,-0.05)(1.135,-0.62)(1.135,-0.45)(1.145,-0.88)(1.155,-0.28)(1.155,-0.72)(1.165,-0.50)(1.175,-0.15)(1.175,-0.80)(1.185,-0.40)(1.195,-0.65)(1.195,-0.92)
(1.205,-0.35)(1.215,-0.58)(1.215,-0.12)(1.225,-0.75)(1.235,-0.45)(1.235,-0.25)(1.245,-0.90)(1.255,-0.62)(1.255,-0.05)(1.265,-0.38)(1.275,-0.80)(1.275,-0.55)(1.285,-0.18)(1.295,-0.70)(1.295,-0.42)(1.305,-0.95)(1.315,-0.28)(1.315,-0.60)(1.325,-0.48)(1.335,-0.85)(1.335,-0.15)(1.345,-0.65)(1.355,-0.35)(1.355,-0.78)(1.365,-0.10)(1.375,-0.55)(1.375,-0.92)(1.385,-0.42)(1.395,-0.68)(1.395,-0.22)
(1.405,-0.80)(1.415,-0.45)(1.415,-0.12)(1.425,-0.62)(1.435,-0.30)(1.435,-0.88)(1.445,-0.50)(1.455,-0.72)(1.455,-0.20)(1.465,-0.95)(1.475,-0.38)(1.475,-0.58)(1.485,-0.15)(1.495,-0.82)(1.495,-0.45)(1.505,-0.62)(1.515,-0.28)(1.515,-0.78)(1.525,-0.05)(1.535,-0.55)(1.535,-0.90)(1.545,-0.40)(1.555,-0.70)(1.555,-0.22)(1.565,-0.48)
(0.452,-0.35)(0.462,-0.55)(0.472,-0.20)(0.482,-0.65)(0.492,-0.42)(0.502,-0.28)(0.512,-0.58)(0.522,-0.15)(0.532,-0.48)(0.542,-0.70)(0.552,-0.32)(0.562,-0.60)(0.572,-0.22)(0.582,-0.50)(0.592,-0.38)(0.602,-0.68)(0.612,-0.42)(0.622,-0.25)(0.632,-0.55)(0.642,-0.15)(0.652,-0.62)(0.662,-0.30)(0.672,-0.48)(0.682,-0.72)(0.692,-0.22)(0.702,-0.50)(0.712,-0.35)(0.722,-0.65)(0.732,-0.42)(0.742,-0.20)(0.752,-0.58)(0.762,-0.32)(0.772,-0.62)(0.782,-0.40)(0.792,-0.75)(0.802,-0.48)(0.812,-0.30)(0.822,-0.68)(0.832,-0.20)(0.842,-0.52)(0.852,-0.78)(0.862,-0.45)(0.872,-0.25)(0.882,-0.62)(0.892,-0.38)(0.902,-0.70)(0.912,-0.55)(0.922,-0.28)(0.932,-0.60)(0.942,-0.45)(0.952,-0.18)(0.962,-0.65)(0.972,-0.40)(0.982,-0.55)(0.992,-0.30)
(1.002,-0.72)(1.012,-0.58)(1.022,-0.25)(1.032,-0.62)(1.042,-0.42)(1.052,-0.15)(1.062,-0.68)(1.072,-0.48)(1.082,-0.80)(1.092,-0.35)(1.102,-0.60)(1.112,-0.45)(1.122,-0.28)(1.132,-0.70)(1.142,-0.52)(1.152,-0.38)(1.162,-0.20)(1.172,-0.65)(1.182,-0.50)(1.192,-0.30)(1.202,-0.60)(1.212,-0.82)(1.222,-0.42)(1.232,-0.25)(1.242,-0.58)(1.252,-0.70)(1.262,-0.48)(1.272,-0.30)(1.282,-0.62)(1.292,-0.45)(1.302,-0.22)(1.312,-0.75)(1.322,-0.55)(1.332,-0.38)(1.342,-0.62)(1.352,-0.18)(1.362,-0.50)(1.372,-0.72)(1.382,-0.35)(1.392,-0.58)(1.402,-0.42)(1.412,-0.68)(1.422,-0.28)(1.432,-0.55)(1.442,-0.40)(1.452,-0.62)(1.462,-0.30)(1.472,-0.78)(1.482,-0.48)(1.492,-0.25)(1.502,-0.58)(1.512,-0.42)(1.522,-0.65)(1.532,-0.32)(1.542,-0.52)(1.552,-0.45)(1.562,-0.72)
};
\end{axis}
\end{tikzpicture}
\end{document}
